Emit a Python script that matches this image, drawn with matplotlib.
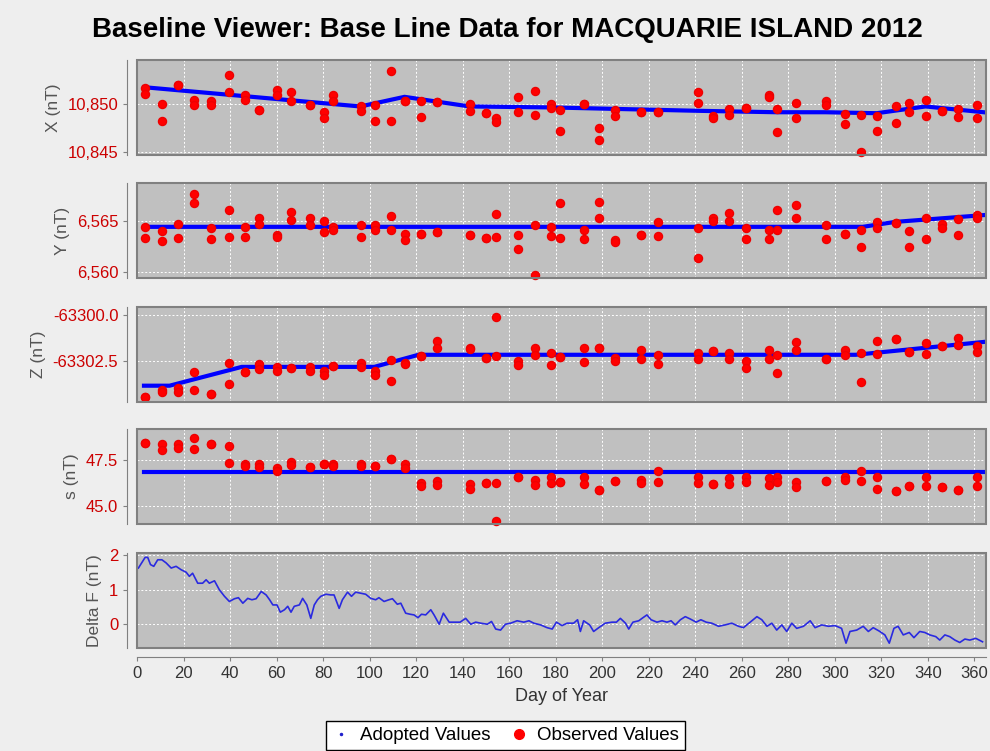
import matplotlib.pyplot as plt
from matplotlib.patches import Rectangle
from matplotlib.lines import Line2D
from matplotlib.ticker import FuncFormatter

plt.rcParams['font.family'] = ['Liberation Sans', 'DejaVu Sans']

# observation days (shared by X, Y, Z, s)
obs_day = [3.5, 10.8, 17.5, 24.4, 31.6, 39.4, 46.6, 52.6, 60.2, 66.2, 74.5, 80.2,
           84.3, 96.2, 102.4, 109.1, 115.2, 122.3, 129.1, 143.1, 149.9, 154.2, 163.9, 171.0,
           177.8, 181.8, 192.1, 198.8, 205.7, 216.7, 223.8, 241.0, 247.6, 254.6, 261.8, 271.5,
           275.3, 283.3, 296.2, 304.4, 311.2, 318.2, 326.3, 332.0, 339.1, 346.1, 353.0, 361.2]

# observed values, two readings per day
x_obs_a = [10851.65, 10850.0, 10851.9, 10850.4, 10850.3, 10853.0, 10850.9, 10849.3, 10851.4, 10851.2, 10849.8, 10849.1,
           10850.9, 10849.7, 10849.9, 10853.4, 10850.3, 10850.3, 10850.2, 10850.0, 10849.0, 10848.5, 10850.7, 10851.3,
           10850.0, 10849.3, 10850.0, 10847.5, 10849.3, 10849.1, 10849.1, 10851.2, 10848.7, 10849.4, 10849.5, 10850.9,
           10849.4, 10850.1, 10850.3, 10848.9, 10848.8, 10848.7, 10849.7, 10850.1, 10850.4, 10849.2, 10849.4, 10849.8]
x_obs_b = [10851.03, 10848.2, 10851.9, 10849.8, 10849.8, 10851.2, 10850.4, 10849.3, 10850.9, 10850.3, 10849.8, 10848.5,
           10850.3, 10849.2, 10848.2, 10848.2, 10850.3, 10848.6, 10850.2, 10849.2, 10849.0, 10848.1, 10849.1, 10848.8,
           10849.5, 10847.2, 10850.0, 10846.2, 10848.7, 10849.1, 10849.1, 10850.1, 10848.5, 10848.8, 10849.5, 10850.7,
           10847.0, 10848.5, 10849.8, 10847.9, 10845.0, 10847.2, 10848.0, 10849.1, 10848.7, 10849.2, 10848.6, 10848.5]

y_obs_a = [6564.44, 6564.0, 6564.77, 6567.73, 6564.34, 6566.09, 6564.44, 6565.27, 6563.6, 6565.86, 6565.33, 6565.0,
           6564.44, 6564.6, 6564.67, 6565.53, 6563.78, 6563.78, 6563.94, 6563.6, 6563.35, 6565.66, 6563.6, 6564.67,
           6564.44, 6566.75, 6564.1, 6566.9, 6563.12, 6563.6, 6564.93, 6564.34, 6565.27, 6565.76, 6564.28, 6564.1,
           6566.09, 6566.58, 6564.67, 6563.78, 6564.1, 6564.93, 6564.83, 6564.0, 6565.27, 6564.77, 6565.17, 6565.59]
y_obs_b = [6563.35, 6563.0, 6563.3, 6566.75, 6563.19, 6563.45, 6563.45, 6564.77, 6563.45, 6565.1, 6564.6, 6563.94,
           6564.1, 6563.45, 6564.1, 6564.1, 6563.12, 6563.78, 6563.94, 6563.6, 6563.35, 6563.45, 6562.24, 6559.67,
           6563.52, 6563.3, 6563.19, 6565.27, 6562.9, 6563.6, 6563.52, 6561.32, 6565.03, 6565.03, 6563.19, 6563.19,
           6564.1, 6565.27, 6563.19, 6563.78, 6562.4, 6564.34, 6564.83, 6562.4, 6563.22, 6564.28, 6563.6, 6565.27]

z_obs_a = [-63304.41, -63304.05, -63303.96, -63303.1, -63304.27, -63302.62, -63303.07, -63302.68, -63302.81, -63302.89,
           -63302.81, -63303.04, -63302.75, -63302.62, -63303.04, -63302.45, -63302.62, -63302.23, -63301.43, -63301.79,
           -63302.32, -63300.13, -63302.5, -63301.79, -63302.09, -63302.27, -63301.82, -63301.82, -63302.32, -63301.91,
           -63302.18, -63302.09, -63301.97, -63302.09, -63302.5, -63301.91, -63302.18, -63301.5, -63302.39, -63301.91,
           -63302.09, -63301.43, -63301.29, -63302.0, -63301.55, -63301.68, -63301.25, -63301.68]
z_obs_b = [-63304.41, -63304.18, -63304.18, -63304.05, -63304.27, -63303.75, -63303.07, -63302.93, -63303.04, -63302.89,
           -63303.04, -63303.25, -63302.75, -63302.81, -63303.25, -63303.57, -63302.68, -63302.23, -63301.79, -63301.86,
           -63302.32, -63302.22, -63302.71, -63302.18, -63302.71, -63302.27, -63302.54, -63301.82, -63302.5, -63302.39,
           -63302.68, -63302.36, -63301.97, -63302.36, -63302.86, -63302.36, -63303.13, -63301.91, -63302.39, -63302.18,
           -63303.64, -63302.14, -63301.29, -63302.0, -63302.14, -63301.68, -63301.64, -63302.0]

s_obs_a = [48.49, 48.4, 48.4, 48.73, 48.4, 48.3, 47.31, 47.31, 47.09, 47.43, 47.13, 47.31,
           47.31, 47.31, 47.18, 47.56, 47.28, 46.25, 46.34, 46.2, 46.25, 46.25, 46.57, 46.44,
           46.57, 46.29, 46.57, 45.88, 46.38, 46.44, 46.94, 46.57, 46.2, 46.53, 46.57, 46.53,
           46.57, 46.29, 46.38, 46.57, 46.94, 46.57, 45.82, 46.06, 46.57, 46.01, 45.88, 46.57]
s_obs_b = [48.49, 48.06, 48.21, 48.12, 48.4, 47.37, 47.18, 47.13, 46.94, 47.24, 47.13, 47.31,
           47.18, 47.18, 47.18, 47.56, 47.09, 46.06, 46.16, 45.93, 46.25, 44.14, 46.57, 46.16,
           46.25, 46.29, 46.2, 45.88, 46.38, 46.25, 46.29, 46.25, 46.2, 46.2, 46.31, 46.12,
           46.29, 46.01, 46.38, 46.44, 46.38, 45.93, 45.82, 46.06, 46.06, 46.01, 45.88, 46.06]

# adopted baselines (knots)
x_base_day = [3, 96, 115, 143, 178, 205, 241, 275, 296, 318, 339, 364]
x_base = [10851.7, 10849.7, 10850.7, 10849.7, 10849.6, 10849.45, 10849.25, 10849.1, 10849.1, 10849.0, 10849.7, 10849.1]
y_base_day = [3, 312, 326, 364]
y_base = [6564.44, 6564.44, 6564.93, 6565.6]
z_base_day = [3, 14, 45, 102, 121, 309, 364]
z_base = [-63303.82, -63303.82, -63302.81, -63302.81, -63302.16, -63302.16, -63301.47]
s_base_day = [3, 364]
s_base = [46.87, 46.87]

# delta F
df_day = [0.6, 2.0, 3.5, 4.6, 5.8, 7.2, 8.9, 10.7, 12.5, 14.7, 16.8, 19.0, 21.1, 22.5, 23.9, 26.1, 28.2, 29.7,
          31.1, 33.3, 35.4, 37.6, 39.7, 41.9, 43.6, 45.5, 47.6, 49.4, 51.2, 53.4, 55.5, 57.0, 58.4, 60.2, 61.6,
          63.4, 64.8, 66.2, 67.6, 69.8, 71.2, 73.0, 74.7, 76.2, 77.6, 79.0, 81.2, 83.3, 84.7, 86.9, 88.3, 90.5,
          92.2, 94.0, 96.2, 98.3, 100.5, 102.6, 104.0, 106.2, 108.3, 109.8, 111.9, 113.4, 115.5, 117.4, 119.1,
          120.8, 122.3, 124.1, 126.3, 127.7, 129.9, 131.7, 134.2, 136.3, 138.9, 141.3, 143.5, 145.6, 147.8,
          150.6, 152.4, 154.2, 156.3, 158.4, 160.6, 163.4, 166.3, 168.5, 170.6, 173.5, 176.3, 178.5, 180.3,
          182.7, 184.9, 187.7, 189.4, 190.6, 192.0, 194.6, 196.3, 198.5, 201.3, 204.2, 206.1, 207.8, 210.0,
          211.4, 213.2, 215.7, 217.1, 219.2, 221.0, 223.5, 225.7, 227.8, 229.6, 231.4, 233.6, 235.7, 237.9,
          240.4, 242.4, 244.7, 247.1, 250.0, 252.8, 255.7, 258.6, 260.7, 263.6, 266.5, 268.6, 270.8, 272.9,
          275.0, 277.2, 279.3, 281.5, 283.6, 286.5, 289.4, 291.5, 294.4, 297.2, 300.1, 302.9, 304.8, 306.5,
          309.4, 312.2, 314.4, 316.5, 319.1, 321.5, 323.4, 325.4, 327.2, 329.4, 332.0, 334.0, 336.5, 338.7,
          340.8, 343.4, 345.1, 347.3, 349.4, 351.6, 353.7, 355.9, 358.0, 360.6, 363.5]
df_val = [1.63, 1.78, 1.94, 1.94, 1.73, 1.68, 1.87, 1.87, 1.78, 1.63, 1.68, 1.58, 1.51, 1.39, 1.48, 1.19, 1.19, 1.29,
          1.19, 1.26, 1.0, 0.81, 0.66, 0.74, 0.77, 0.61, 0.75, 0.71, 0.74, 0.95, 0.85, 0.71, 0.56, 0.56, 0.35,
          0.42, 0.52, 0.35, 0.52, 0.56, 0.75, 0.56, 0.17, 0.56, 0.71, 0.81, 0.87, 0.85, 0.85, 0.46, 0.71, 0.93,
          0.81, 0.93, 0.90, 0.87, 0.75, 0.71, 0.77, 0.66, 0.71, 0.74, 0.58, 0.61, 0.32, 0.29, 0.27,
          0.19, 0.29, 0.27, 0.42, 0.27, 0.0, 0.32, 0.06, 0.06, 0.06, 0.17, 0.0, 0.06, 0.03,
          0.0, 0.08, -0.14, -0.17, 0.0, 0.03, 0.1, 0.06, 0.1, 0.03, -0.02, -0.1, -0.14, 0.06,
          -0.04, 0.03, 0.03, 0.13, -0.21, 0.1, -0.02, -0.21, -0.1, 0.03, 0.06, 0.06, 0.17, 0.03,
          -0.14, 0.06, 0.1, 0.17, 0.27, 0.13, 0.06, 0.1, 0.06, 0.1, -0.02, 0.13, 0.22, 0.15,
          0.06, 0.13, 0.06, 0.03, -0.06, -0.02, 0.03, -0.06, -0.1, 0.06, 0.22, 0.13, -0.06, 0.03,
          -0.17, -0.02, -0.21, 0.03, -0.12, -0.06, 0.1, -0.1, -0.02, -0.06, -0.04, -0.12, -0.55, -0.21,
          -0.17, -0.06, -0.21, -0.1, -0.2, -0.31, -0.55, -0.12, -0.06, -0.31, -0.24, -0.39, -0.21, -0.24,
          -0.31, -0.36, -0.46, -0.31, -0.36, -0.46, -0.53, -0.43, -0.46, -0.41, -0.51]

x_ticks = list(range(0, 361, 20))

fig = plt.figure(figsize=(9.9, 7.51), dpi=100, facecolor='#eeeeee')

left, width, height = 0.1384, 0.8576, 0.1262
bottoms = [0.7936, 0.6298, 0.4651, 0.3023, 0.1376]

panels = [
    ('X (nT)', x_obs_a, x_obs_b, x_base_day, x_base, (10844.66, 10854.5), [10845, 10850],
     lambda v, p: f'{v:,.0f}'),
    ('Y (nT)', y_obs_a, y_obs_b, y_base_day, y_base, (6559.38, 6568.75), [6560, 6565],
     lambda v, p: f'{v:,.0f}'),
    ('Z (nT)', z_obs_a, z_obs_b, z_base_day, z_base, (-63304.68, -63299.59), [-63302.5, -63300.0],
     lambda v, p: f'{v:.1f}'),
    ('s (nT)', s_obs_a, s_obs_b, s_base_day, s_base, (43.98, 49.23), [45.0, 47.5],
     lambda v, p: f'{v:.1f}'),
]

axes = []
for i, b in enumerate(bottoms):
    ax = fig.add_axes([left, b, width, height])
    ax.set_facecolor('#c0c0c0')
    ax.set_xlim(0, 365)
    ax.set_xticks(x_ticks)
    for side in ['top', 'right', 'bottom']:
        ax.spines[side].set_visible(False)
    ax.spines['left'].set_position(('outward', 7))
    ax.spines['left'].set_color('#808080')
    ax.add_patch(Rectangle((0, 0), 1, 1, transform=ax.transAxes, fill=False,
                           ec='#808080', lw=1.5, clip_on=False, zorder=6))
    ax.grid(True, color='white', linestyle=(0, (2, 2)), linewidth=0.7)
    ax.set_axisbelow(True)
    ax.tick_params(axis='y', colors='#808080', labelcolor='#cc0000', labelsize=12, length=3)
    ax.tick_params(axis='x', bottom=False, labelbottom=False)
    axes.append(ax)

for ax, (label, va, vb, bd, bv, ylim, yt, fmt) in zip(axes[:4], panels):
    ax.plot(bd, bv, color='#0000ff', lw=3, zorder=3)
    ax.plot(obs_day, va, 'o', color='#ff0000', ms=5.8, mec='#ee0000', zorder=4, clip_on=False)
    ax.plot(obs_day, vb, 'o', color='#ff0000', ms=5.8, mec='#ee0000', zorder=4, clip_on=False)
    ax.set_ylim(*ylim)
    ax.set_yticks(yt)
    ax.yaxis.set_major_formatter(FuncFormatter(fmt))
    ax.set_ylabel(label, fontsize=12.5, color='#555555', labelpad=5)

axd = axes[4]
axd.plot(df_day, df_val, color='#2a2ae0', lw=1.2, zorder=3)
axd.set_ylim(-0.68, 2.07)
axd.set_yticks([0, 1, 2])
axd.set_ylabel('Delta F (nT)', fontsize=12.5, color='#555555', labelpad=5)
axd.spines['bottom'].set_visible(True)
axd.spines['bottom'].set_position(('outward', 7))
axd.spines['bottom'].set_color('#808080')
axd.tick_params(axis='x', bottom=True, labelbottom=True, colors='#808080',
                labelcolor='#333333', labelsize=12, length=3)
axd.set_xlabel('Day of Year', fontsize=13, color='#333333', labelpad=5)

fig.text(0.512, 0.96, 'Baseline Viewer: Base Line Data for MACQUARIE ISLAND 2012',
         ha='center', va='center', fontsize=20, fontweight='bold')

handles = [Line2D([], [], ls='none', marker='.', color='#2020cc', ms=3),
           Line2D([], [], ls='none', marker='o', color='#ff0000', ms=7)]
fig.legend(handles, ['Adopted Values', 'Observed Values'], loc='upper center',
           bbox_to_anchor=(0.5106, 0.052), ncol=2, fontsize=13.5, frameon=True,
           fancybox=False, edgecolor='black', facecolor='white', framealpha=1,
           handlelength=1, handletextpad=0.5, columnspacing=1.0, borderpad=0.3)

plt.savefig('out.png', dpi=100, facecolor=fig.get_facecolor())
